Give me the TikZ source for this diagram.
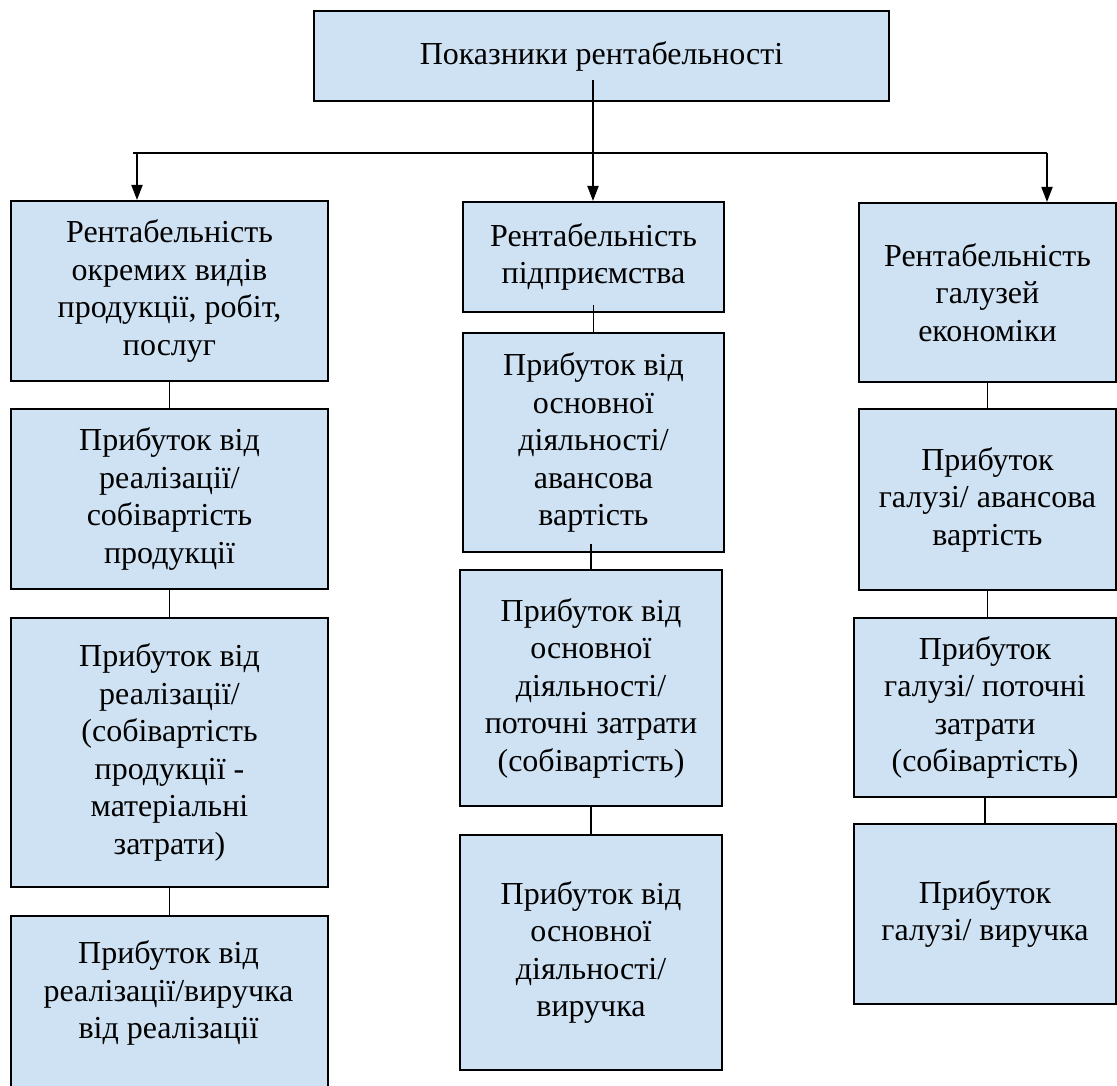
\documentclass[tikz,border=0pt]{standalone}
\usepackage{fontspec}
\setmainfont{Liberation Serif}
\usetikzlibrary{arrows.meta}
\definecolor{boxblue}{RGB}{207,226,243}

\begin{document}
\begin{tikzpicture}[x=1pt, y=-1pt,
    txt/.style={align=center, font=\fontsize{32}{37.5}\selectfont},
    box/.style={txt, draw, line width=2pt, fill=boxblue, anchor=north west, inner sep=0pt},
    link/.style={line width=1.8pt},
    down/.style={line width=1.8pt, -{Triangle[length=15pt,width=11pt]}}]

  \useasboundingbox (0,0) rectangle (1117,1086);

  \node[box, minimum width=575, minimum height=90] (top) at (313,10) {Показники рентабельності};

  \coordinate (busL) at (133,153);
  \coordinate (tapL) at (137,153);
  \coordinate (tapM) at (593,153);
  \coordinate (tapR) at (1047,153);

  % left column
  \node[box, minimum width=317, minimum height=180] (L1) at (10,200) {Рентабельність\\окремих видів\\продукції, робіт,\\послуг};
  \node[box, minimum width=317, minimum height=180] (L2) at (10,408) {Прибуток від\\реалізації/\\собівартість\\продукції};
  \node[box, minimum width=317, minimum height=269] (L3) at (10,617) {Прибуток від\\реалізації/\\(собівартість\\продукції -\\матеріальні\\затрати)};
  \node[box, minimum width=317, minimum height=190] (L4) at (10,915) {};
  \node[txt] (L4text) at (168.5,993) {Прибуток від\\реалізації/виручка\\від реалізації};

  % middle column
  \node[box, minimum width=261, minimum height=110] (M1) at (462,201) {Рентабельність\\підприємства};
  \node[box, minimum width=261, minimum height=219] (M2) at (462,332) {Прибуток від\\основної\\діяльності/\\авансова\\вартість};
  \node[box, minimum width=262, minimum height=236] (M3) at (459,569) {Прибуток від\\основної\\діяльності/\\поточні затрати\\(собівартість)};
  \node[box, minimum width=262, minimum height=235] (M4) at (459,834) {Прибуток від\\основної\\діяльності/\\виручка};

  % right column
  \node[box, minimum width=257, minimum height=179] (R1) at (858,202) {Рентабельність\\галузей\\економіки};
  \node[box, minimum width=257, minimum height=181] (R2) at (858,408) {Прибуток\\галузі/ авансова\\вартість};
  \node[box, minimum width=262, minimum height=179] (R3) at (853,617) {Прибуток\\галузі/ поточні\\затрати\\(собівартість)};
  \node[box, minimum width=262, minimum height=180] (R4) at (853,823) {Прибуток\\галузі/ виручка};

  \draw[link] ([yshift=22pt]top.south -| tapM) -- (tapM);
  \draw[link] (busL) -- (tapR);

  \draw[down] (tapL) -- (tapL |- L1.north);
  \draw[down] (tapM) -- (tapM |- M1.north);
  \draw[down] (tapR) -- (tapR |- R1.north);

  \draw[link] (L1.south) -- (L2.north);
  \draw[link] (L2.south) -- (L3.north);
  \draw[link] (L3.south) -- (L4.north);

  \draw[link] ([yshift=8pt]M1.south) -- (M2.north);
  \draw[link] ([yshift=9pt]M2.south -| M3.north) -- (M3.north);
  \draw[link] (M3.south) -- (M4.north);

  \draw[link] (R1.south) -- (R2.north);
  \draw[link] (R2.south) -- (R2.south |- R3.north);
  \draw[link] (R3.south) -- (R4.north);

\end{tikzpicture}
\end{document}
